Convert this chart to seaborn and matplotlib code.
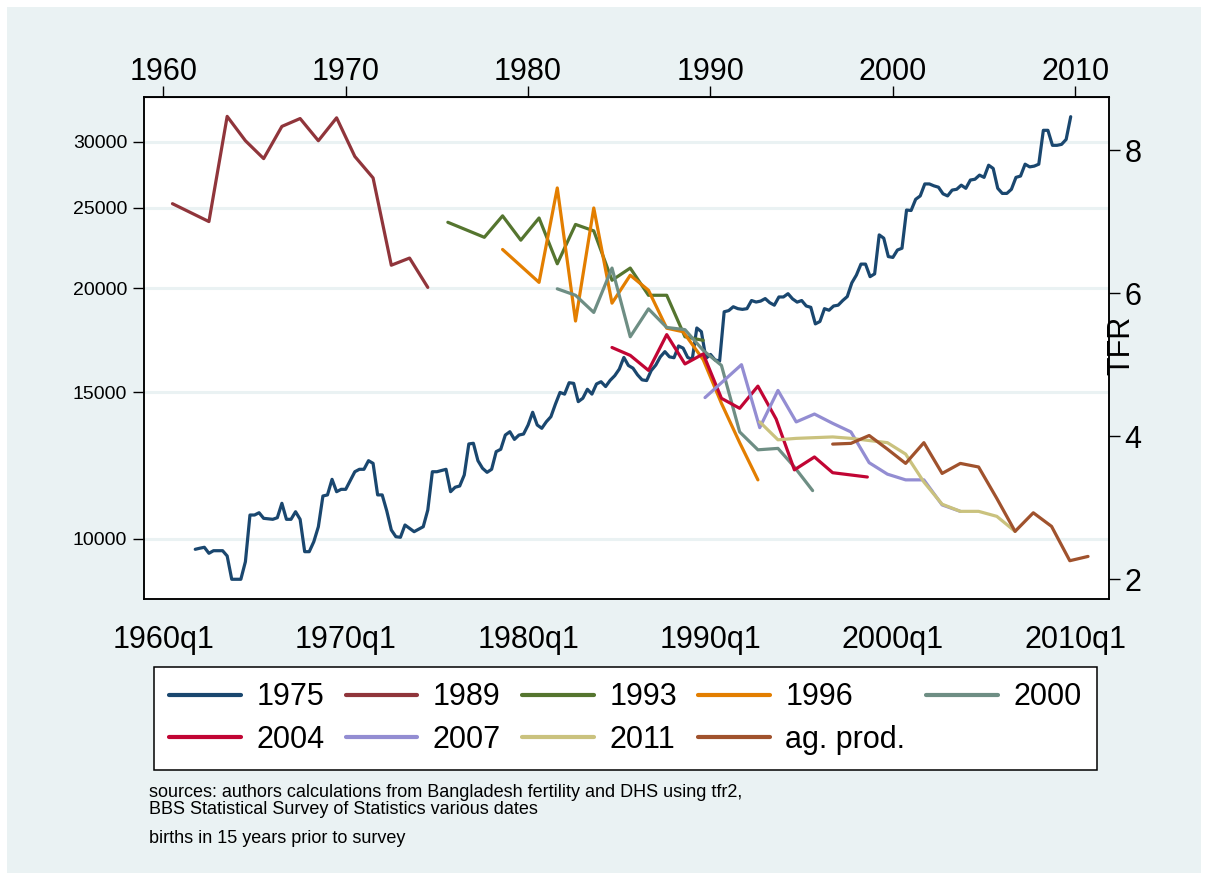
import numpy as np
import pandas as pd
import matplotlib
matplotlib.use('Agg')
import matplotlib.pyplot as plt
import matplotlib.patches as mpatches
import seaborn as sns

# series "1975" (left axis, log scale), quarter index 0 = 1960q1
q_1975 = [7, 8, 9, 10, 11, 12, 13, 14, 15, 16, 17, 18, 19, 20, 21, 22, 24, 25, 26, 27,
          28, 29, 30, 31, 32, 33, 34, 35, 36, 37, 38, 39, 40, 42, 43, 44, 45, 46, 47, 48,
          49, 50, 51, 52, 53, 54, 55, 57, 58, 59, 60, 62, 63, 64, 65, 66, 67, 68, 69, 70,
          71, 72, 73, 74, 75, 76, 77, 78, 79, 80, 81, 82, 83, 84, 85, 86, 87, 88, 89, 90,
          91, 92, 93, 94, 95, 96, 97, 98, 99, 100, 101, 102, 103, 104, 105, 106, 107, 108, 109, 110,
          111, 112, 113, 114, 115, 116, 117, 118, 119, 120, 121, 122, 123, 124, 125, 126, 127, 128, 129, 130,
          131, 132, 133, 134, 135, 136, 137, 138, 139, 140, 141, 142, 143, 144, 145, 146, 147, 148, 149, 150,
          151, 152, 153, 154, 155, 156, 157, 158, 159, 160, 161, 162, 163, 164, 165, 166, 167, 168, 169, 170,
          171, 172, 173, 174, 175, 176, 177, 178, 179, 180, 181, 182, 183, 184, 185, 186, 187, 188, 189, 190,
          191, 192, 193, 194, 195, 196, 197, 198, 199]
v_1975 = [9711, 9740, 9765, 9604, 9673, 9673, 9673, 9533, 8938, 8938, 8938, 9384, 10677, 10677, 10745, 10580, 10551, 10598, 11029, 10551,
          10551, 10775, 10551, 9647, 9647, 9917, 10337, 11254, 11288, 11785, 11389, 11464, 11464, 12036, 12117, 12117, 12409, 12318, 11288, 11288,
          10800, 10244, 10055, 10039, 10386, 10292, 10196, 10337, 10826, 12036, 12036, 12117, 11389, 11530, 11570, 11928, 12998, 13022, 12409, 12152,
          12016, 12117, 12724, 12808, 13322, 13445, 13163, 13322, 13359, 13697, 14188, 13697, 13573, 13822, 14016, 14517, 14989, 14920, 15398, 15370,
          14612, 14750, 15120, 14920, 15345, 15440, 15235, 15500, 15700, 15990, 16513, 16150, 16030, 15737, 15520, 15490, 15925, 16168, 16541, 16780,
          16541, 16500, 17047, 16944, 16513, 16428, 17915, 17734, 16470, 16650, 16400, 16350, 18737, 18800, 19000, 18900, 18863, 18900, 19330, 19250,
          19300, 19435, 19214, 19083, 19521, 19521, 19700, 19418, 19245, 19330, 19040, 18970, 18120, 18240, 18900, 18818, 19040, 19083, 19330, 19545,
          20300, 20740, 21380, 21380, 20650, 20810, 23180, 22970, 21830, 21780, 22230, 22340, 24830, 24800, 25580, 25820, 26690, 26690, 26550, 26450,
          25970, 25820, 26240, 26300, 26600, 26370, 26980, 27040, 27350, 27180, 28110, 27860, 26370, 26000, 26000, 26300, 27180, 27280, 28190, 27980,
          28040, 28190, 30960, 30960, 29700, 29700, 29780, 30190, 32150]

# TFR series (right axis)
yr_1989 = [1960.5, 1962.5, 1963.5, 1964.5, 1965.5, 1966.5, 1967.5, 1968.5, 1969.5, 1970.5, 1971.5, 1972.5, 1973.5, 1974.5]
tfr_1989 = [7.25, 7.00, 8.47, 8.13, 7.88, 8.33, 8.44, 8.13, 8.45, 7.91, 7.61, 6.39, 6.49, 6.08]

yr_1993 = [1975.6, 1977.6, 1978.6, 1979.6, 1980.6, 1981.6, 1982.6, 1983.6, 1984.6, 1985.6, 1986.6, 1987.6, 1988.6, 1989.6]
tfr_1993 = [6.99, 6.78, 7.08, 6.74, 7.05, 6.41, 6.96, 6.87, 6.18, 6.35, 5.97, 5.97, 5.39, 5.34]

yr_1996 = [1978.6, 1980.6, 1981.6, 1982.6, 1983.6, 1984.6, 1985.6, 1986.6, 1987.6, 1988.5, 1989.6, 1990.6, 1991.6, 1992.6]
tfr_1996 = [6.61, 6.15, 7.47, 5.61, 7.19, 5.86, 6.25, 6.04, 5.51, 5.46, 5.07, 4.46, 3.91, 3.39]

yr_2000 = [1981.6, 1982.6, 1983.6, 1984.6, 1985.6, 1986.6, 1987.6, 1988.6, 1989.6, 1990.6, 1991.6, 1992.6, 1993.7, 1994.6, 1995.6]
tfr_2000 = [6.06, 5.97, 5.73, 6.35, 5.39, 5.78, 5.52, 5.49, 5.20, 4.99, 4.06, 3.81, 3.83, 3.57, 3.24]

yr_2004 = [1984.6, 1985.6, 1986.6, 1987.6, 1988.6, 1989.6, 1990.6, 1991.6, 1992.6, 1993.6, 1994.6, 1995.7, 1996.7, 1998.6]
tfr_2004 = [5.24, 5.13, 4.92, 5.42, 5.01, 5.15, 4.53, 4.39, 4.70, 4.24, 3.53, 3.71, 3.49, 3.43]

yr_2007 = [1989.7, 1991.7, 1992.7, 1993.7, 1994.7, 1995.7, 1996.7, 1997.7, 1998.7, 1999.7, 2000.7, 2001.7, 2002.7, 2003.7]
tfr_2007 = [4.54, 5.00, 4.12, 4.64, 4.20, 4.31, 4.18, 4.06, 3.63, 3.47, 3.39, 3.39, 3.04, 2.95]

yr_2011 = [1992.7, 1993.7, 1994.7, 1995.7, 1996.7, 1997.7, 1998.7, 1999.7, 2000.7, 2001.7, 2002.7, 2003.7, 2004.7, 2005.7, 2006.7]
tfr_2011 = [4.20, 3.95, 3.97, 3.98, 3.99, 3.97, 3.94, 3.91, 3.75, 3.36, 3.05, 2.95, 2.95, 2.88, 2.67]

yr_ag = [1996.7, 1997.7, 1998.7, 1999.7, 2000.7, 2001.7, 2002.7, 2003.7, 2004.7, 2005.7, 2006.7, 2007.7, 2008.7, 2009.7, 2010.7]
tfr_ag = [3.89, 3.90, 4.01, 3.82, 3.62, 3.91, 3.48, 3.62, 3.57, 3.13, 2.67, 2.93, 2.74, 2.26, 2.32]

xticks = [1960, 1970, 1980, 1990, 2000, 2010]
xtick_bottom = ['1960q1', '1970q1', '1980q1', '1990q1', '2000q1', '2010q1']
xtick_top = ['1960', '1970', '1980', '1990', '2000', '2010']
lticks = [10000, 15000, 20000, 25000, 30000]
rticks = [2, 4, 6, 8]

notes = ['sources: authors calculations from Bangladesh fertility and DHS using tfr2,',
         'BBS Statistical Survey of Statistics various dates',
         'births in 15 years prior to survey']

colors = {'1975': '#1A476F', '1989': '#90353B', '1993': '#55752F', '1996': '#E37E00',
          '2000': '#6E8E84', '2004': '#C10534', '2007': '#938DD2', '2011': '#CAC27E',
          'ag. prod.': '#A0522D'}

tfr_series = [('1989', yr_1989, tfr_1989), ('1993', yr_1993, tfr_1993), ('1996', yr_1996, tfr_1996),
              ('2000', yr_2000, tfr_2000), ('2004', yr_2004, tfr_2004), ('2007', yr_2007, tfr_2007),
              ('2011', yr_2011, tfr_2011), ('ag. prod.', yr_ag, tfr_ag)]

sns.set_style('white')
plt.rcParams['font.family'] = ['Liberation Sans', 'DejaVu Sans']
plt.rcParams['text.color'] = 'black'

W, H = 1208, 880
fig = plt.figure(figsize=(W / 100, H / 100), dpi=100, facecolor='white')
fig.patches.append(mpatches.Rectangle((7 / W, 7 / H), 1194 / W, 866 / H, transform=fig.transFigure,
                                      facecolor='#EAF2F3', edgecolor='none', zorder=-5))

ax = fig.add_axes([144 / W, 1 - 599 / H, (1109 - 144) / W, (599 - 97) / H])
ax.set_facecolor('white')

df75 = pd.DataFrame({'year': 1960 + np.array(q_1975) / 4, 'value': v_1975})
sns.lineplot(data=df75, x='year', y='value', ax=ax, color=colors['1975'], lw=2.3,
             errorbar=None, label='1975')
ax.set_yscale('log')
ax.set_ylim(8463, 33950)
ax.set_yticks(lticks)
ax.set_yticklabels([str(t) for t in lticks], fontsize=14)
ax.minorticks_off()
ax.yaxis.grid(True, color='#EAF2F3', lw=2.2)
ax.xaxis.grid(False)
ax.set_axisbelow(True)
ax.set_xlim(1958.94, 2011.85)
ax.set_xticks(xticks)
ax.set_xticklabels(xtick_bottom, fontsize=22)
ax.set_xlabel('')
ax.set_ylabel('')
ax.tick_params(axis='both', direction='out', length=8, width=1, color='black', labelcolor='black')
ax.tick_params(axis='x', pad=10.5)
ax.tick_params(axis='y', pad=4)

ax2 = ax.twinx()
for name, yr, tf in tfr_series:
    d = pd.DataFrame({'year': yr, 'tfr': tf})
    sns.lineplot(data=d, x='year', y='tfr', ax=ax2, color=colors[name], lw=2.3,
                 errorbar=None, label=name)
ax2.set_ylim(1.725, 8.741)
ax2.set_yticks(rticks)
ax2.set_yticklabels([str(t) for t in rticks], fontsize=22)
ax2.set_ylabel('')
ax2.set_xlabel('')
ax2.tick_params(axis='y', direction='out', length=8, width=1, color='black', labelcolor='black', pad=3)

top = ax.secondary_xaxis('top')
top.set_xticks(xticks)
top.set_xticklabels(xtick_top, fontsize=22)
top.tick_params(direction='out', length=8, width=1, color='black', labelcolor='black', pad=-1)

for a in (ax, ax2):
    for s in a.spines.values():
        s.set_color('black')
        s.set_linewidth(1.1)
    if a.get_legend() is not None:
        a.get_legend().remove()
top.spines['top'].set_color('black')

fig.text(1121 / W, 1 - 345 / H, 'TFR', rotation=90, fontsize=22, ha='center', va='center')

handles = {l.get_label(): l for l in ax.get_lines() + ax2.get_lines()}
# legend fills column by column, so order entries to read row-wise like the original
order = ['1975', '2004', '1989', '2007', '1993', '2011', '1996', 'ag. prod.', '2000']
leg = fig.legend([handles[k] for k in order], order, loc='upper left', ncol=5, mode='expand',
                 bbox_to_anchor=(154 / W, 1 - 667 / H - 0.01, (1097 - 154) / W, 0.01),
                 fontsize=22, frameon=True, fancybox=False, edgecolor='black', framealpha=1,
                 handlelength=2.35, handletextpad=0.5, labelspacing=0.42, borderpad=0.5,
                 borderaxespad=0)
leg.get_frame().set_linewidth(1.1)
for t in leg.get_texts():
    t.set_color('black')
for h in leg.legend_handles:
    h.set_linewidth(3)

fig.text(149 / W, 1 - 792 / H, notes[0], fontsize=13, va='center')
fig.text(149 / W, 1 - 809 / H, notes[1], fontsize=13, va='center')
fig.text(149 / W, 1 - 838 / H, notes[2], fontsize=13, va='center')

fig.savefig('out.png', dpi=100, facecolor='white')
